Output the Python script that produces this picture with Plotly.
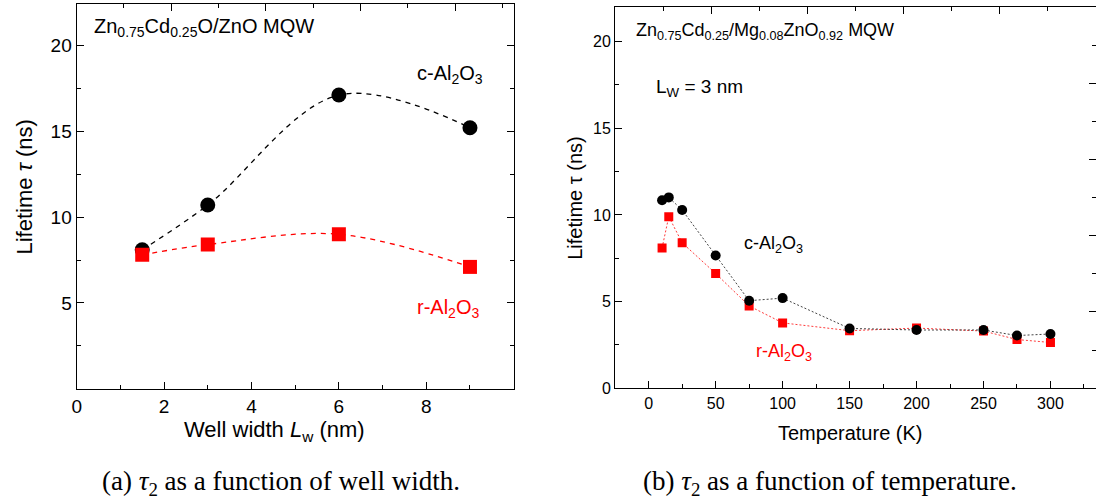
import plotly.graph_objects as go

# ---------------- data ----------------
# (a) lifetime vs well width
well_width = [1.5, 3, 6, 9]
tau_c_width = [8.1, 10.7, 17.1, 15.2]
tau_r_width = [7.8, 8.4, 9.0, 7.1]

# (b) lifetime vs temperature
temperature = [10, 15, 25, 50, 75, 100, 150, 200, 250, 275, 300]
tau_c_temp = [10.84, 11.01, 10.28, 7.66, 5.05, 5.20, 3.45, 3.36, 3.36, 3.04, 3.13]
tau_r_temp = [8.09, 9.90, 8.39, 6.62, 4.75, 3.77, 3.32, 3.47, 3.30, 2.81, 2.64]

y_ticks_a = [5, 10, 15, 20]
x_ticks_a = [0, 2, 4, 6, 8]

SANS = "Liberation Sans, Arial, sans-serif"
SERIF = "Liberation Serif, Times New Roman, serif"
RED = "#ff0000"

fig = go.Figure()

# ---- panel (a) ----
fig.add_trace(go.Scatter(
    x=well_width, y=tau_c_width, mode="lines+markers", xaxis="x", yaxis="y",
    line=dict(color="black", width=1.3, dash="5px,5px", shape="spline", smoothing=1.0),
    marker=dict(symbol="circle", size=15, color="black"), showlegend=False, hoverinfo="x+y"))
fig.add_trace(go.Scatter(
    x=well_width, y=tau_r_width, mode="lines+markers", xaxis="x", yaxis="y",
    line=dict(color=RED, width=1.3, dash="5px,5px", shape="spline", smoothing=1.0),
    marker=dict(symbol="square", size=14, color=RED), showlegend=False, hoverinfo="x+y"))

# ---- panel (b) ----
fig.add_trace(go.Scatter(
    x=temperature, y=tau_r_temp, mode="lines+markers", xaxis="x2", yaxis="y2",
    line=dict(color="#ff3b3b", width=1, dash="2px,2px"),
    marker=dict(symbol="square", size=9, color=RED), showlegend=False, hoverinfo="x+y"))
fig.add_trace(go.Scatter(
    x=temperature, y=tau_c_temp, mode="lines+markers", xaxis="x2", yaxis="y2",
    line=dict(color="#444444", width=1, dash="2px,2px"),
    marker=dict(symbol="circle", size=10, color="black"), showlegend=False, hoverinfo="x+y"))

# empty traces to activate decorative frame axes
fig.add_trace(go.Scatter(x=[], y=[], xaxis="x3", yaxis="y", showlegend=False, hoverinfo="skip"))
fig.add_trace(go.Scatter(x=[], y=[], xaxis="x4", yaxis="y2", showlegend=False, hoverinfo="skip"))
fig.add_trace(go.Scatter(x=[], y=[], xaxis="x2", yaxis="y3", showlegend=False, hoverinfo="skip"))

W, H = 1096, 504
dom_a_x = [72 / W, 511 / W]
dom_a_y = [1 - 396 / H, 1 - 4 / H]
dom_b_x = [613 / W, 1.0]
dom_b_y = [1 - 395.3 / H, 1 - 7 / H]

axis_common = dict(showgrid=False, zeroline=False, showline=True, linecolor="black",
                   linewidth=1.3, ticks="inside", tickcolor="black", tickwidth=1.2)

fig.update_layout(
    width=W, height=H, margin=dict(l=0, r=0, t=0, b=0),
    paper_bgcolor="white", plot_bgcolor="white",
    xaxis=dict(**axis_common, domain=dom_a_x, anchor="y", range=[0, 10],
               tickmode="array", tickvals=x_ticks_a, ticklen=7, mirror=True,
               minor=dict(ticks="inside", dtick=1, tick0=0, ticklen=4, tickcolor="black"),
               tickfont=dict(family=SANS, size=19, color="black")),
    yaxis=dict(**axis_common, domain=dom_a_y, anchor="x", range=[0, 22.4],
               tickmode="array", tickvals=y_ticks_a, ticklen=7, mirror="ticks",
               minor=dict(ticks="inside", dtick=2.5, tick0=0, ticklen=4, tickcolor="black"),
               tickfont=dict(family=SANS, size=19, color="black")),
    xaxis3=dict(overlaying="x", side="top", anchor="y", range=[0, 4.62], dtick=1, tick0=0,
                showgrid=False, zeroline=False, showline=False, showticklabels=False,
                ticks="inside", ticklen=7, tickcolor="black", tickwidth=1.2,
                minor=dict(ticks="inside", dtick=0.5, ticklen=4, tickcolor="black")),
    xaxis2=dict(**axis_common, domain=dom_b_x, anchor="y2", range=[-25, 334],
                dtick=50, tick0=0, ticklen=7, mirror=True,
                minor=dict(ticks="inside", dtick=25, tick0=0, ticklen=4, tickcolor="black"),
                tickfont=dict(family=SANS, size=16, color="black")),
    yaxis2=dict(**axis_common, domain=dom_b_y, anchor="x2", range=[0, 22],
                dtick=5, tick0=0, ticklen=7,
                minor=dict(ticks="inside", dtick=2.5, tick0=0, ticklen=4, tickcolor="black"),
                tickfont=dict(family=SANS, size=16, color="black")),
    xaxis4=dict(overlaying="x2", side="top", anchor="y2", range=[0, 5], dtick=1, tick0=0,
                showgrid=False, zeroline=False, showline=False, showticklabels=False,
                ticks="inside", ticklen=7, tickcolor="black", tickwidth=1.2,
                minor=dict(ticks="inside", dtick=0.5, ticklen=4, tickcolor="black")),
    yaxis3=dict(overlaying="y2", side="right", anchor="x2", range=[0, 5], dtick=1, tick0=0,
                showgrid=False, zeroline=False, showline=False, showticklabels=False,
                ticks="inside", ticklen=7, tickcolor="black", tickwidth=1.2,
                minor=dict(ticks="inside", dtick=0.5, ticklen=4, tickcolor="black")),
)

def ann(text, x, y, xref="paper", yref="paper", size=18, color="black", family=SANS,
        xanchor="left", yanchor="middle", angle=0):
    fig.add_annotation(text=text, x=x, y=y, xref=xref, yref=yref, showarrow=False,
                       xanchor=xanchor, yanchor=yanchor, textangle=angle,
                       font=dict(family=family, size=size, color=color))

# panel (a) texts
ann("Zn<sub>0.75</sub>Cd<sub>0.25</sub>O/ZnO MQW", 0.35, 21.0, "x", "y", size=20)
ann("c-Al<sub>2</sub>O<sub>3</sub>", 7.75, 18.3, "x", "y", size=20)
ann("r-Al<sub>2</sub>O<sub>3</sub>", 7.75, 4.7, "x", "y", size=20, color=RED)
ann("Well width <i>L</i><sub>w</sub> (nm)", 271 / W, 1 - 439 / H, size=22, xanchor="center")
ann("Lifetime <i>τ</i> (ns)", 20 / W, 1 - 190 / H, size=22, xanchor="center", angle=-90)

# panel (b) texts
ann("Zn<sub>0.75</sub>Cd<sub>0.25</sub>/Mg<sub>0.08</sub>ZnO<sub>0.92</sub> MQW", -11, 20.6, "x2", "y2", size=18)
ann("L<sub>W</sub> = 3 nm", 4, 17.3, "x2", "y2", size=19)
ann("c-Al<sub>2</sub>O<sub>3</sub>", 70, 8.3, "x2", "y2", size=18)
ann("r-Al<sub>2</sub>O<sub>3</sub>", 79, 2.05, "x2", "y2", size=18, color=RED)
ann("Temperature (K)", 849 / W, 1 - 441 / H, size=20, xanchor="center")
ann("Lifetime τ (ns)", 573 / W, 1 - 201 / H, size=20, xanchor="center", angle=-90)

# captions
ann("(a) <i>τ</i><sub>2</sub> as a function of well width.", 277 / W, 1 - 492 / H,
    size=27, family=SERIF, xanchor="center")
ann("(b) <i>τ</i><sub>2</sub> as a function of temperature.", 829 / W, 1 - 492 / H,
    size=27, family=SERIF, xanchor="center")

fig.write_html("out.html")
